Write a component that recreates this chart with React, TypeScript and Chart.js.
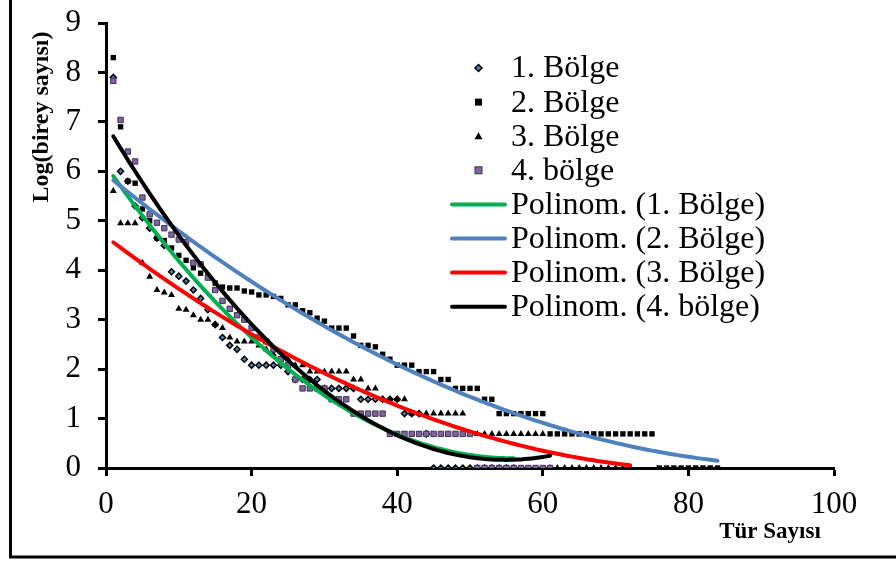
import React, { useEffect, useRef } from "react";
import { Chart, registerables } from "chart.js";
Chart.register(...registerables);

// ---- data (y values at rank x = 1..N) ----
const region1 = [
  7.9, 6.0, 5.8, 5.3, 5.06, 4.85, 4.65, 4.5, 3.97, 3.88,
  3.78, 3.6, 3.43, 3.2, 2.9, 2.64, 2.48, 2.4, 2.2, 2.08,
  2.08, 2.08, 2.08, 2.08, 1.95, 1.79, 1.79, 1.79, 1.79, 1.61,
  1.61, 1.61, 1.61, 1.61, 1.39, 1.39, 1.39, 1.39, 1.39, 1.39,
  1.1, 1.1, 1.1, 0.69, 0, 0, 0, 0, 0, 0,
  0, 0, 0, 0, 0, 0,
];
const region2 = [
  8.3, 6.9, 5.8, 5.76, 5.24, 5.0, 4.65, 4.6, 4.45, 4.3,
  4.2, 4.05, 3.94, 3.88, 3.74, 3.66, 3.64, 3.64, 3.58, 3.56,
  3.5, 3.5, 3.47, 3.43, 3.3, 3.3, 3.18, 3.14, 3.03, 2.97,
  2.83, 2.83, 2.83, 2.67, 2.48, 2.48, 2.45, 2.3, 2.2, 2.08,
  2.08, 2.08, 1.95, 1.95, 1.95, 1.79, 1.79, 1.61, 1.61, 1.61,
  1.61, 1.39, 1.39, 1.1, 1.1, 1.1, 1.1, 1.1, 1.1, 1.1,
  0.69, 0.69, 0.69, 0.69, 0.69, 0.69, 0.69, 0.69, 0.69, 0.69,
  0.69, 0.69, 0.69, 0.69, 0.69, 0, 0, 0, 0, 0,
  0, 0, 0, 0,
];
const region3 = [
  5.6, 4.95, 4.95, 4.95, 4.15, 3.87, 3.6, 3.55, 3.5, 3.22,
  3.2, 3.09, 3.0, 3.0, 2.9, 2.83, 2.64, 2.56, 2.56, 2.56,
  2.48, 2.4, 2.3, 2.2, 2.2, 2.08, 2.08, 1.95, 1.95, 1.95,
  1.95, 1.95, 1.95, 1.79, 1.79, 1.61, 1.61, 1.39, 1.39, 1.39,
  1.39, 1.1, 1.1, 1.1, 1.1, 1.1, 1.1, 1.1, 1.1, 0.69,
  0.69, 0.69, 0.69, 0.69, 0.69, 0.69, 0.69, 0.69, 0.69, 0.69,
  0, 0, 0, 0, 0, 0, 0, 0, 0, 0,
  0, 0,
];
const region4 = [
  7.83, 7.04, 6.4, 6.2, 5.47, 5.13, 4.96, 4.85, 4.72, 4.62,
  4.57, 4.15, 4.12, 3.85, 3.6, 3.38, 3.22, 3.09, 3.0, 2.83,
  2.64, 2.56, 2.4, 2.2, 2.08, 1.79, 1.61, 1.61, 1.61, 1.61,
  1.39, 1.39, 1.39, 1.1, 1.1, 1.1, 1.1, 1.1, 0.69, 0.69,
  0.69, 0.69, 0.69, 0.69, 0.69, 0.69, 0.69, 0.69, 0.69, 0.69,
  0, 0, 0, 0, 0, 0, 0, 0, 0, 0,
  0,
];

const seriesLabels = ["1. Bölge", "2. Bölge", "3. Bölge", "4. bölge"];
const trendLabels = [
  "Polinom. (1. Bölge)",
  "Polinom. (2. Bölge)",
  "Polinom. (3. Bölge)",
  "Polinom. (4. bölge)",
];
const xTicks = [0, 20, 40, 60, 80, 100];
const yTicks = [0, 1, 2, 3, 4, 5, 6, 7, 8, 9];
const xTitle = "Tür Sayısı";
const yTitle = "Log(birey sayısı)";

// ---- styles ----
const SERIF = "'Liberation Serif', 'Times New Roman', serif";
const trendColors = ["#00b050", "#4f81bd", "#ff0000", "#000000"];

function toPoints(arr: number[]) {
  return arr.map((y, i) => ({ x: i + 1, y }));
}

// least-squares 2nd order polynomial (like the spreadsheet trendline)
function quadFit(arr: number[]) {
  let s0 = 0, s1 = 0, s2 = 0, s3 = 0, s4 = 0, t0 = 0, t1 = 0, t2 = 0;
  arr.forEach((y, i) => {
    const x = i + 1;
    s0 += 1; s1 += x; s2 += x * x; s3 += x * x * x; s4 += x * x * x * x;
    t0 += y; t1 += x * y; t2 += x * x * y;
  });
  const M = [
    [s4, s3, s2, t2],
    [s3, s2, s1, t1],
    [s2, s1, s0, t0],
  ];
  for (let c = 0; c < 3; c++) {
    for (let r = c + 1; r < 3; r++) {
      const f = M[r][c] / M[c][c];
      for (let k = c; k < 4; k++) M[r][k] -= f * M[c][k];
    }
  }
  const sol = [0, 0, 0];
  for (let r = 2; r >= 0; r--) {
    let v = M[r][3];
    for (let k = r + 1; k < 3; k++) v -= M[r][k] * sol[k];
    sol[r] = v / M[r][r];
  }
  return sol; // a, b, c
}

function trendPoints(arr: number[]) {
  const [a, b, c] = quadFit(arr);
  const pts: { x: number; y: number }[] = [];
  const n = arr.length;
  for (let x = 1; x <= n + 1e-9; x += 0.5) pts.push({ x, y: a * x * x + b * x + c });
  return pts;
}

function drawMarker(ctx: CanvasRenderingContext2D, kind: number, x: number, y: number) {
  ctx.save();
  ctx.lineWidth = 1;
  if (kind === 0) {
    ctx.beginPath();
    ctx.moveTo(x, y - 3.5); ctx.lineTo(x + 3.5, y); ctx.lineTo(x, y + 3.5); ctx.lineTo(x - 3.5, y); ctx.closePath();
    ctx.fillStyle = "#4f81bd"; ctx.fill();
    ctx.strokeStyle = "#000"; ctx.lineWidth = 1.5; ctx.stroke();
  } else if (kind === 1) {
    ctx.fillStyle = "#000"; ctx.fillRect(x - 3.5, y - 3.5, 7, 7);
  } else if (kind === 2) {
    ctx.beginPath();
    ctx.moveTo(x, y - 4); ctx.lineTo(x + 4, y + 3); ctx.lineTo(x - 4, y + 3); ctx.closePath();
    ctx.fillStyle = "#000"; ctx.fill();
  } else {
    ctx.fillStyle = "#8064a2"; ctx.fillRect(x - 3.5, y - 3.5, 7, 7);
    ctx.strokeStyle = "#3f3151"; ctx.strokeRect(x - 3.5, y - 3.5, 7, 7);
  }
  ctx.restore();
}

const decorPlugin = {
  id: "decor",
  afterDraw(chart: any) {
    const ctx: CanvasRenderingContext2D = chart.ctx;
    ctx.save();
    // frame lines
    ctx.strokeStyle = "#000";
    ctx.lineWidth = 3;
    ctx.beginPath();
    ctx.moveTo(10.5, 0);
    ctx.lineTo(10.5, 557);
    ctx.lineTo(896, 557);
    ctx.stroke();

    // axis titles
    ctx.fillStyle = "#000";
    ctx.font = `bold 23px ${SERIF}`;
    ctx.textAlign = "center";
    ctx.textBaseline = "middle";
    ctx.fillText(xTitle, 770, 532);
    ctx.save();
    ctx.translate(42, 117);
    ctx.rotate(-Math.PI / 2);
    ctx.font = `bold 24px ${SERIF}`;
    ctx.fillText(yTitle, 0, 0);
    ctx.restore();

    // legend
    const x0 = 452, x1 = 505, tx = 511, y0 = 68, dy = 34.1;
    ctx.font = `32px ${SERIF}`;
    ctx.textAlign = "left";
    ctx.textBaseline = "middle";
    const labels = [...seriesLabels, ...trendLabels];
    labels.forEach((lab, i) => {
      const y = y0 + i * dy;
      if (i < 4) {
        drawMarker(ctx, i, (x0 + x1) / 2, y);
      } else {
        ctx.strokeStyle = trendColors[i - 4];
        ctx.lineWidth = 4;
        ctx.lineCap = "round";
        ctx.beginPath();
        ctx.moveTo(x0, y);
        ctx.lineTo(x1, y);
        ctx.stroke();
      }
      ctx.fillStyle = "#000";
      ctx.fillText(lab, tx, y + 1);
    });
    ctx.restore();
  },
};

export default function App() {
  const ref = useRef<HTMLCanvasElement | null>(null);
  useEffect(() => {
    if (!ref.current) return;
    const all = [region1, region2, region3, region4];
    const pointStyles = ["rectRot", "rect", "triangle", "rect"];
    const pointBg = ["#4f81bd", "#000000", "#000000", "#8064a2"];
    const pointBorder = ["#000000", "#000000", "#000000", "#3f3151"];
    const pointRadius = [3, 3.8, 4, 3.8];
    const pointBorderW = [1.5, 0, 0, 1];
    const trendOrder = [3, 2, 1, 0];
    const scatterOrder = [7, 6, 5, 4];

    const datasets: any[] = [];
    all.forEach((arr, i) => {
      datasets.push({
        type: "line",
        label: trendLabels[i],
        data: trendPoints(arr),
        borderColor: trendColors[i],
        borderWidth: 4,
        pointRadius: 0,
        fill: false,
        tension: 0,
        borderCapStyle: "round",
        order: trendOrder[i],
      });
    });
    all.forEach((arr, i) => {
      datasets.push({
        type: "scatter",
        label: seriesLabels[i],
        data: toPoints(arr),
        pointStyle: pointStyles[i],
        backgroundColor: pointBg[i],
        borderColor: pointBorder[i],
        borderWidth: pointBorderW[i],
        pointRadius: pointRadius[i],
        order: scatterOrder[i],
      });
    });

    const tickFont = { family: SERIF, size: 31 };
    const chart = new Chart(ref.current, {
      type: "scatter",
      data: { datasets },
      options: {
        animation: false,
        responsive: false,
        devicePixelRatio: 1,
        layout: { padding: { top: 23, right: 62, left: 0, bottom: 0 } },
        plugins: { legend: { display: false }, tooltip: { enabled: false } },
        scales: {
          x: {
            type: "linear",
            min: 0,
            max: 100,
            afterBuildTicks: (s: any) => { s.ticks = xTicks.map((v) => ({ value: v })); },
            afterFit: (s: any) => { s.height = 94; s.paddingLeft = 0; s.paddingRight = 0; },
            ticks: { font: tickFont, color: "#000", padding: 10 },
            grid: { drawOnChartArea: false, drawTicks: true, tickLength: 8, tickWidth: 3, tickColor: "#000" },
            border: { display: true, color: "#000", width: 3 },
          },
          y: {
            type: "linear",
            min: 0,
            max: 9,
            afterBuildTicks: (s: any) => { s.ticks = yTicks.map((v) => ({ value: v })); },
            afterFit: (s: any) => { s.width = 106; s.paddingTop = 0; s.paddingBottom = 0; },
            ticks: { font: tickFont, color: "#000", padding: 17 },
            grid: { drawOnChartArea: false, drawTicks: true, tickLength: 8, tickWidth: 3, tickColor: "#000" },
            border: { display: true, color: "#000", width: 3 },
          },
        },
      },
      plugins: [decorPlugin],
    });
    return () => chart.destroy();
  }, []);

  return (
    <div style={{ position: "fixed", left: 0, top: 0, width: 896, height: 562, background: "#fff" }}>
      <canvas ref={ref} width={896} height={562} style={{ display: "block" }} />
    </div>
  );
}
